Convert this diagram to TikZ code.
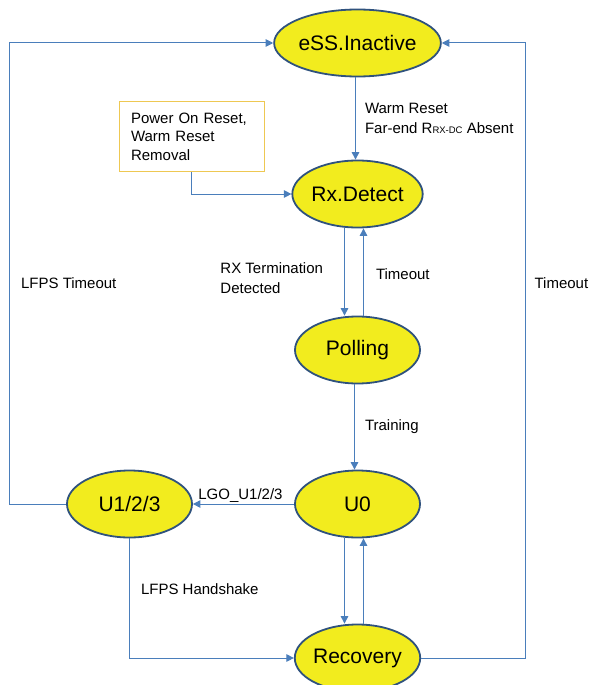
\documentclass[tikz,border=0pt]{standalone}
\usepackage{fontspec}
\setmainfont{Liberation Sans}
\usetikzlibrary{arrows.meta,shapes.geometric}

\definecolor{linkblue}{RGB}{74,126,187}
\definecolor{stateblue}{RGB}{47,82,125}
\definecolor{stateyellow}{RGB}{242,236,30}
\definecolor{boxgold}{RGB}{238,200,82}

\tikzset{
	state/.style={ellipse, draw=stateblue, line width=1.8pt, fill=stateyellow, minimum width=125pt, minimum height=67pt, inner sep=0pt, font=\fontsize{21}{25}\selectfont},
	resetbox/.style={draw=boxgold, line width=0.9pt, align=left, text width=121pt, inner xsep=12pt, minimum height=70pt, font=\fontsize{15}{18.5}\selectfont},
	cond/.style={font=\fontsize{15}{19.5}\selectfont, align=left, inner sep=0pt},
	flow/.style={draw=linkblue, line width=1pt, -{Triangle[length=7.5pt,width=7.5pt]}},
}

\begin{document}
\begin{tikzpicture}[x=1pt, y=-1pt]
	\useasboundingbox (0,0) rectangle (590,685);

	% states
	\node[state] (inactive) at (357.5,43) {eSS.Inactive};
	\node[state] (detect) at (357.5,194) {Rx.Detect};
	\node[state] (polling) at (357.5,350) {Polling};
	\node[state] (u0) at (357.5,504) {U0};
	\node[state] (u123) at (129.5,504) {U1/2/3};
	\node[state] (recovery) at (357.5,658) {Recovery};
	\node[resetbox] (reset) at (191.5,136.5) {Power On Reset,\\Warm Reset\\Removal};

	% transitions
	\draw[flow] (reset.south) |- (detect.west);
	\draw[flow] ([xshift=-2]inactive.south) -- node[cond, right=9pt] {Warm Reset\\Far-end R{\fontsize{9.5}{10}\selectfont RX-DC} Absent} ([xshift=-2]detect.north);
	\draw[flow] ([xshift=-13]detect.south) -- node[cond, left=21pt, pos=0.57] {RX Termination\\Detected} ([xshift=-13]polling.north);
	\draw[flow] ([xshift=6]polling.north) -- node[cond, right=12pt, pos=0.47] {Timeout} ([xshift=6]detect.south);
	\draw[flow] ([xshift=-3]polling.south) -- node[cond, right=10pt] {Training} ([xshift=-3]u0.north);
	\draw[flow] (u0.west) -- node[cond, above=1pt, pos=0.53] {LGO\_U1/2/3} (u123.east);
	\draw[flow] ([xshift=-13]u0.south) -- ([xshift=-13]recovery.north);
	\draw[flow] ([xshift=6]recovery.north) -- ([xshift=6]u0.south);
	\draw[flow] (u123.south) |- node[cond, right=11pt, pos=0.21] {LFPS Handshake} (recovery.west);
	\draw[flow] (u123.west) -- ++(-56.5,0) |- node[cond, right=11pt, pos=0.24] {LFPS Timeout} (inactive.west);
	\draw[flow] (recovery.east) -- ++(104.5,0) |- node[cond, right=8.5pt, pos=0.305] {Timeout} (inactive.east);
\end{tikzpicture}
\end{document}
